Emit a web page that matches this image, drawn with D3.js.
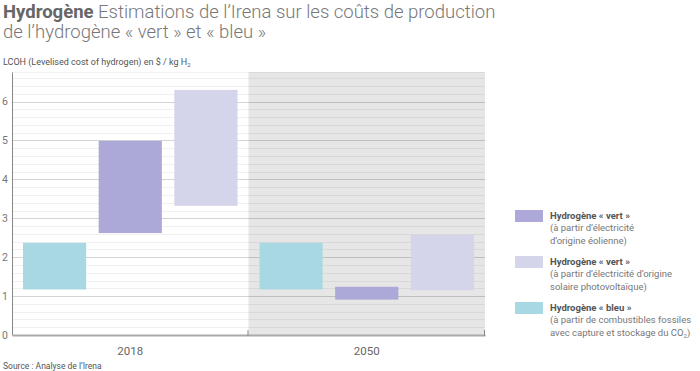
<!DOCTYPE html>
<html>
<head>
    <meta charset="utf-8" />
    <title>Hydrogène - coûts de production</title>
    <script src="https://d3js.org/d3.v7.min.js"></script>
    <style>
        body { margin: 0; background: #fff; }
        svg text { font-family: Roboto, "Open Sans", sans-serif; }
    </style>
</head>
<body>
    <div id="the-chart"></div>
    <script>
        // data
        var years = ["2018", "2050"];
        var series = ["eolien", "solaire", "bleu"];
        var seriesOrder = ["bleu", "eolien", "solaire"]; // left to right in each year
        var eolienLow = [2.62, 0.91], eolienHigh = [4.99, 1.24];
        var solaireLow = [3.32, 1.15], solaireHigh = [6.3, 2.57];
        var bleuLow = [1.17, 1.17], bleuHigh = [2.37, 2.37];
        var yTicks = [0, 1, 2, 3, 4, 5, 6];
        var colors = { eolien: "#aca9d8", solaire: "#d4d4ea", bleu: "#a8d9e3" };
        var legendLines = {
            eolien: ["Hydrogène « vert »", "(à partir d’électricité", "d’origine éolienne)"],
            solaire: ["Hydrogène « vert »", "(à partir d’électricité d’origine", "solaire photovoltaïque)"],
            bleu: ["Hydrogène « bleu »", "(à partir de combustibles fossiles", "avec capture et stockage du CO₂)"]
        };

        (function () {
            var lows = { eolien: eolienLow, solaire: solaireLow, bleu: bleuLow },
                highs = { eolien: eolienHigh, solaire: solaireHigh, bleu: bleuHigh };

            var data = [];
            years.forEach(function (yr, i) {
                seriesOrder.forEach(function (s) {
                    data.push({ year: yr, key: s, low: lows[s][i], high: highs[s][i] });
                });
            });

            var svg = d3.select("#the-chart").append("svg")
                .attr("width", 700)
                .attr("height", 371);

            var pLeft = 12, pRight = 485, pTop = 72, pBottom = 335;

            var x0 = d3.scaleBand().domain(years).range([pLeft, pRight]).padding(0),
                x1 = d3.scaleBand().domain(seriesOrder).range([0, x0.bandwidth()])
                    .paddingInner(0.165).paddingOuter(0.145),
                y = d3.scaleLinear().domain([0, 6.76]).range([pBottom, pTop]);

            // title
            var title = svg.append("text").attr("x", 3).attr("y", 18)
                .style("font-size", "18.5px").attr("fill", "#777");
            title.append("tspan").style("font-weight", "700").attr("fill", "#666").text("Hydrogène");
            title.append("tspan").style("font-weight", "300").text(" Estimations de l’Irena sur les coûts de production");
            svg.append("text").attr("x", 3).attr("y", 38)
                .style("font-size", "18.5px").style("font-weight", "300").attr("fill", "#777")
                .text("de l’hydrogène « vert » et « bleu »");

            var sub = svg.append("text").attr("x", 3).attr("y", 65)
                .style("font-size", "9px").attr("fill", "#555");
            sub.append("tspan").attr("fill", "#555").text("LCOH (Levelised cost of hydrogen) en $ / kg H");
            sub.append("tspan").attr("fill", "#555").attr("dy", 2).style("font-size", "6px").text("2");

            // 2050 background
            svg.append("rect")
                .attr("x", x0("2050")).attr("y", pTop)
                .attr("width", x0.bandwidth()).attr("height", pBottom - pTop)
                .attr("fill", "#e6e6e6");

            // grid
            var minor = d3.range(0.2, 6.76, 0.2).filter(function (v) { return Math.abs(v - Math.round(v)) > 0.01; });
            var g = svg.append("g");
            g.selectAll("line.minor").data(minor).enter().append("line")
                .attr("x1", pLeft).attr("x2", pRight)
                .attr("y1", function (d) { return Math.round(y(d)) + 0.5; })
                .attr("y2", function (d) { return Math.round(y(d)) + 0.5; })
                .attr("stroke", "#000").attr("stroke-opacity", 0.06);
            g.selectAll("line.major").data(yTicks.slice(1)).enter().append("line")
                .attr("x1", pLeft).attr("x2", pRight)
                .attr("y1", function (d) { return Math.round(y(d)) + 0.5; })
                .attr("y2", function (d) { return Math.round(y(d)) + 0.5; })
                .attr("stroke", "#000").attr("stroke-opacity", 0.17);
            g.append("line").attr("x1", pLeft).attr("x2", pRight)
                .attr("y1", pTop + 0.5).attr("y2", pTop + 0.5)
                .attr("stroke", "#000").attr("stroke-opacity", 0.05);

            // bars
            svg.append("g").selectAll("rect.bar").data(data).enter().append("rect")
                .attr("class", "bar")
                .attr("x", function (d) { return x0(d.year) + x1(d.key); })
                .attr("y", function (d) { return y(d.high); })
                .attr("width", x1.bandwidth())
                .attr("height", function (d) { return y(d.low) - y(d.high); })
                .attr("fill", function (d) { return colors[d.key]; });

            // y axis
            var ya = svg.append("g").attr("transform", "translate(" + pLeft + ",0)")
                .call(d3.axisLeft(y).tickValues(yTicks).tickFormat(d3.format("d"))
                    .tickSize(0).tickPadding(4));
            ya.select(".domain").attr("stroke", "#888");
            ya.selectAll("text").attr("fill", "#777").style("font-size", "10.5px");

            // x axis
            var xa = svg.append("g").attr("transform", "translate(0," + pBottom + ")")
                .call(d3.axisBottom(x0).tickSize(0).tickPadding(12));
            xa.select(".domain").attr("stroke", "#aaa").attr("stroke-width", 2);
            xa.selectAll("text").attr("fill", "#666").style("font-size", "11.5px");
            xa.selectAll(".sep").data([x0("2050"), pRight]).enter().append("line")
                .attr("x1", function (d) { return d - 0.5; }).attr("x2", function (d) { return d - 0.5; })
                .attr("y1", -5).attr("y2", 1)
                .attr("stroke", "#888");

            // legend
            var legend = svg.append("g").selectAll("g").data(series).enter().append("g")
                .attr("transform", function (d, i) { return "translate(515," + (210 + i * 46) + ")"; });
            legend.append("rect").attr("width", 28).attr("height", 12)
                .attr("fill", function (d) { return colors[d]; });
            legend.each(function (d) {
                var gl = d3.select(this);
                legendLines[d].forEach(function (line, j) {
                    var t = gl.append("text").attr("x", 35).attr("y", 8.5 + j * 12.5)
                        .style("font-size", "9.5px")
                        .attr("fill", j === 0 ? "#555" : "#777")
                        .style("font-weight", j === 0 ? "700" : "400");
                    if (line.indexOf("CO₂") >= 0) {
                        t.append("tspan").text(line.replace("CO₂)", "CO"));
                        t.append("tspan").attr("dy", 2).style("font-size", "6px").text("2");
                        t.append("tspan").attr("dy", -2).text(")");
                    } else {
                        t.text(line);
                    }
                });
            });

            svg.append("text").attr("x", 3).attr("y", 369)
                .style("font-size", "8.5px").attr("fill", "#555")
                .text("Source : Analyse de l’Irena");
        })();
    </script>
</body>
</html>
